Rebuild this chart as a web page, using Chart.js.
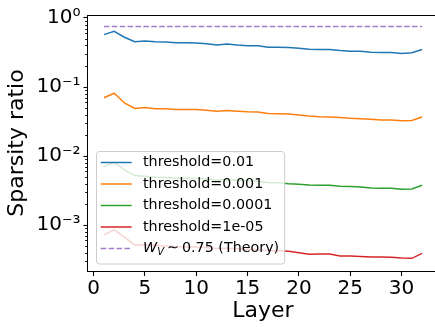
<!DOCTYPE html>
<html lang="en">
<head>
  <meta charset="UTF-8" />
  <title>Sparsity ratio per layer</title>
  <style>
    html, body { margin: 0; padding: 0; background: #fff; overflow: hidden; }
    #wrap { width: 435px; height: 327px; overflow: hidden; }
    canvas { display: block; }
  </style>
</head>
<body>
  <div id="wrap"><canvas id="chart" width="440" height="327"></canvas></div>

  <script src="https://cdn.jsdelivr.net/npm/chart.js"></script>
  <script>
    const layers = [1, 2, 3, 4, 5, 6, 7, 8, 9, 10, 11, 12, 13, 14, 15, 16,
                    17, 18, 19, 20, 21, 22, 23, 24, 25, 26, 27, 28, 29, 30, 31, 32];

    const thr1e2 = [0.575, 0.641, 0.527, 0.453, 0.463, 0.453, 0.448, 0.438, 0.438, 0.436, 0.424, 0.406,
                    0.420, 0.406, 0.397, 0.397, 0.376, 0.376, 0.374, 0.364, 0.353, 0.349, 0.349, 0.338,
                    0.330, 0.330, 0.320, 0.316, 0.316, 0.306, 0.313, 0.349];
    const thr1e3 = [0.0700, 0.0815, 0.0588, 0.0490, 0.0505, 0.0484, 0.0484, 0.0473, 0.0473, 0.0473, 0.0463, 0.0448,
                    0.0458, 0.0448, 0.0439, 0.0434, 0.0413, 0.0410, 0.0406, 0.0394, 0.0381, 0.0372, 0.0369, 0.0361,
                    0.0353, 0.0349, 0.0342, 0.0334, 0.0334, 0.0324, 0.0329, 0.0369];
    const thr1e4 = [0.00708, 0.00815, 0.00632, 0.00523, 0.00510, 0.00495, 0.00490, 0.00480, 0.00478, 0.00475, 0.00465, 0.00450,
                    0.00458, 0.00448, 0.00440, 0.00432, 0.00415, 0.00411, 0.00398, 0.00390, 0.00381, 0.00378, 0.00378, 0.00366,
                    0.00362, 0.00357, 0.00346, 0.00343, 0.00343, 0.00331, 0.00334, 0.00378];
    const thr1e5 = [0.000724, 0.000853, 0.000672, 0.000518, 0.000520, 0.000510, 0.000500, 0.000490, 0.000485, 0.000482, 0.000472, 0.000458,
                    0.000465, 0.000455, 0.000447, 0.000440, 0.000430, 0.000425, 0.000420, 0.000399, 0.000378, 0.000381, 0.000381, 0.000357,
                    0.000357, 0.000353, 0.000346, 0.000346, 0.000343, 0.000335, 0.000331, 0.000390];
    const theoryValue = 0.75;

    const seriesLabels = ['threshold=0.01', 'threshold=0.001', 'threshold=0.0001', 'threshold=1e-05'];
    const xTickValues = [0, 5, 10, 15, 20, 25, 30];
    const xTickLabels = ['0', '5', '10', '15', '20', '25', '30'];
    const yTickValues = [1e-3, 1e-2, 1e-1, 1];
    const yTickLabels = ['10\u207B\u00B3', '10\u207B\u00B2', '10\u207B\u00B9', '10\u2070'];

    const FONT = "'DejaVu Sans'";
    const Y_MIN = 2.17e-4, Y_MAX = 1.105;

    // minor ticks 2..9 x each decade
    const yMinorTicks = [];
    [1e-4, 1e-3, 1e-2, 1e-1].forEach(d => {
      for (let m = 2; m <= 9; m++) {
        const v = m * d;
        if (v > Y_MIN && v < Y_MAX) yMinorTicks.push(v);
      }
    });

    const toPoints = arr => layers.map((l, i) => ({ x: l, y: arr[i] }));

    const line = (label, data, color) => ({
      label, data: toPoints(data), borderColor: color, backgroundColor: color,
      borderWidth: 1.5, pointRadius: 0, tension: 0, fill: false
    });

    const datasets = [
      line(seriesLabels[0], thr1e2, '#1f77b4'),
      line(seriesLabels[1], thr1e3, '#ff7f0e'),
      line(seriesLabels[2], thr1e4, '#2ca02c'),
      line(seriesLabels[3], thr1e5, '#d62728'),
      {
        label: 'theory', data: toPoints(layers.map(() => theoryValue)),
        borderColor: 'rgba(148,103,189,0.85)', borderWidth: 1.5, borderDash: [5.5, 2.4],
        pointRadius: 0, fill: false
      }
    ];

    // frame, minor ticks and matplotlib-like legend
    const extras = {
      id: 'extras',
      afterDraw(chart) {
        const ctx = chart.ctx;
        const a = chart.chartArea;
        const y = chart.scales.y;
        ctx.save();

        // spines
        ctx.strokeStyle = '#000';
        ctx.lineWidth = 1;
        ctx.strokeRect(a.left - 0.5, a.top + 0.5, a.right - a.left + 1, a.bottom - a.top);

        // minor y ticks
        ctx.lineWidth = 0.85;
        yMinorTicks.forEach(v => {
          const py = Math.round(y.getPixelForValue(v)) + 0.5;
          ctx.beginPath();
          ctx.moveTo(a.left - 3, py);
          ctx.lineTo(a.left, py);
          ctx.stroke();
        });

        // legend
        const size = 14.3;
        const rowH = 21.5;
        const boxL = a.left + 8;
        const boxB = a.bottom - 7.5;
        const firstRow = boxB - 15 - 4 * rowH;
        const boxT = firstRow - 11.5;
        const textX = boxL + 47;

        ctx.font = `${size}px ${FONT}`;
        let maxEnd = 0;
        seriesLabels.forEach(t => { maxEnd = Math.max(maxEnd, textX + ctx.measureText(t).width); });

        // theory label pieces
        const italic = `oblique ${size}px ${FONT}`;
        const sub = `oblique ${size * 0.7}px ${FONT}`;
        ctx.font = italic;
        const wW = ctx.measureText('W').width;
        ctx.font = sub;
        const wV = ctx.measureText('V').width;
        ctx.font = `${size}px ${FONT}`;
        const wSim = ctx.measureText('\u223C').width;
        const tail = '0.75 (Theory)';
        const wTail = ctx.measureText(tail).width;
        const simX = textX + wW + wV + 3;
        const tailX = simX + wSim + 3;
        maxEnd = Math.max(maxEnd, tailX + wTail);
        const boxR = maxEnd + 5;

        ctx.beginPath();
        ctx.roundRect(boxL + 0.5, boxT + 0.5, boxR - boxL, boxB - boxT, 3);
        ctx.fillStyle = 'rgba(255,255,255,0.8)';
        ctx.fill();
        ctx.strokeStyle = '#cccccc';
        ctx.lineWidth = 1;
        ctx.stroke();

        const colors = datasets.map(d => d.borderColor);
        ctx.textBaseline = 'middle';
        ctx.textAlign = 'left';
        for (let i = 0; i < 5; i++) {
          const ry = firstRow + i * rowH;
          ctx.beginPath();
          ctx.strokeStyle = colors[i];
          ctx.lineWidth = 1.5;
          ctx.setLineDash(i === 4 ? [5.5, 2.4] : []);
          ctx.moveTo(boxL + 4.7, ry);
          ctx.lineTo(boxL + 35.7, ry);
          ctx.stroke();
          ctx.setLineDash([]);
          ctx.fillStyle = '#000';
          if (i < 4) {
            ctx.font = `${size}px ${FONT}`;
            ctx.fillText(seriesLabels[i], textX, ry);
          } else {
            ctx.font = italic;
            ctx.fillText('W', textX, ry);
            ctx.font = sub;
            ctx.fillText('V', textX + wW, ry + 3.5);
            ctx.font = `${size}px ${FONT}`;
            ctx.fillText('\u223C', simX, ry);
            ctx.fillText(tail, tailX, ry);
          }
        }
        ctx.restore();
      }
    };

    new Chart(document.getElementById('chart'), {
      type: 'line',
      data: { datasets },
      plugins: [extras],
      options: {
        responsive: false,
        animation: false,
        layout: { padding: { top: 11, right: 2, left: 0, bottom: 0 } },
        plugins: { legend: { display: false }, tooltip: { enabled: false } },
        scales: {
          x: {
            type: 'linear', min: -0.55, max: 33.55,
            afterBuildTicks: s => { s.ticks = xTickValues.map(v => ({ value: v })); },
            afterFit: s => { s.height = 56; },
            border: { display: false },
            grid: { drawOnChartArea: false, tickLength: 5, tickWidth: 1.1, tickColor: '#000' },
            ticks: {
              autoSkip: false, maxRotation: 0, padding: 1, color: '#000',
              font: { family: FONT, size: 20 },
              callback: (v, i) => xTickLabels[i]
            },
            title: {
              display: true, text: 'Layer', color: '#000',
              font: { family: FONT, size: 22, lineHeight: 1.2 },
              padding: { top: 0, bottom: 3 }
            }
          },
          y: {
            type: 'logarithmic', min: Y_MIN, max: Y_MAX,
            afterBuildTicks: s => { s.ticks = yTickValues.map(v => ({ value: v, major: true })); },
            afterFit: s => { s.width = 88; },
            border: { display: false },
            grid: { drawOnChartArea: false, tickLength: 4.5, tickWidth: 1.1, tickColor: '#000' },
            ticks: {
              autoSkip: false, padding: 3, color: '#000',
              font: { family: FONT, size: 20 },
              callback: (v, i) => yTickLabels[i]
            },
            title: {
              display: true, text: 'Sparsity ratio', color: '#000',
              font: { family: FONT, size: 22, lineHeight: 1.2 },
              padding: { top: 4, bottom: 0 }
            }
          }
        }
      }
    });
  </script>
</body>
</html>
